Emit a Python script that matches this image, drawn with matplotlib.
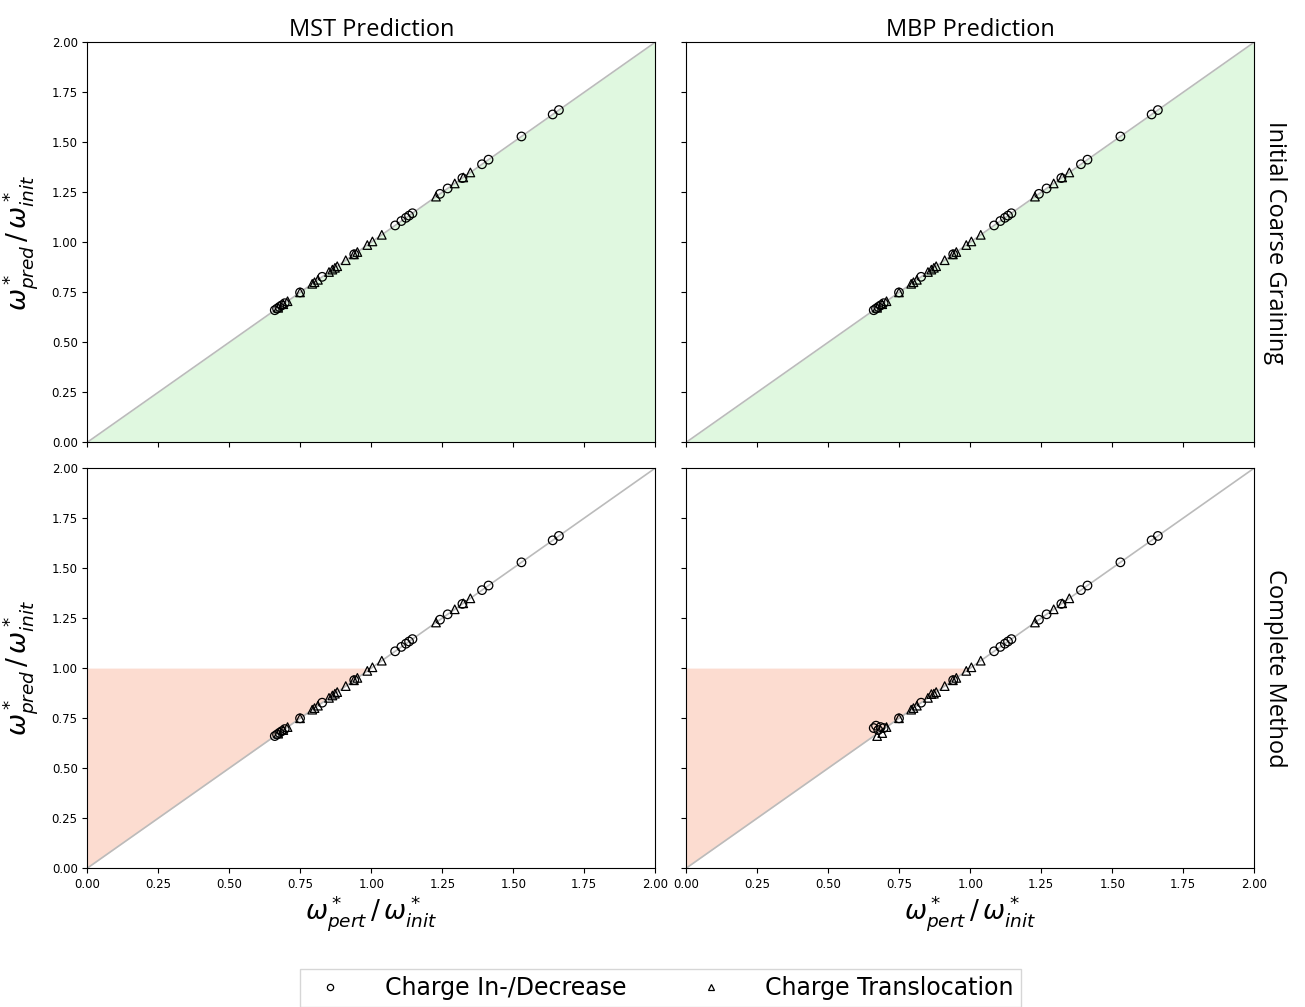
import numpy as np
import matplotlib.pyplot as plt
from matplotlib.lines import Line2D

# perturbed / initial ratios (x) and predicted / initial ratios (y)
circ_pert = [0.660, 0.668, 0.676, 0.684, 0.695, 0.749, 0.827, 0.940, 1.084, 1.106,
             1.122, 1.133, 1.145, 1.242, 1.269, 1.321, 1.390, 1.413, 1.529, 1.639, 1.661]
circ_pred_mst = circ_pert
circ_pred_mbp_cg = circ_pert
circ_pred_mbp_full = [0.700, 0.712, 0.690, 0.705, 0.700, 0.749, 0.827, 0.940, 1.084, 1.106,
                      1.122, 1.133, 1.145, 1.242, 1.269, 1.321, 1.390, 1.413, 1.529, 1.639, 1.661]

tri_pert = [0.672, 0.690, 0.705, 0.749, 0.792, 0.800, 0.812, 0.851, 0.863, 0.872, 0.880,
            0.910, 0.939, 0.951, 0.986, 1.004, 1.037, 1.228, 1.294, 1.324, 1.349]
tri_pred_mst = tri_pert
tri_pred_mbp_cg = tri_pert
tri_pred_mbp_full = [0.660, 0.675, 0.705, 0.749, 0.792, 0.800, 0.812, 0.851, 0.870, 0.872, 0.880,
                     0.910, 0.939, 0.951, 0.986, 1.004, 1.037, 1.228, 1.294, 1.324, 1.349]

col_titles = ["MST Prediction", "MBP Prediction"]
row_titles = ["Initial Coarse Graining", "Complete Method"]
ticks = [0.0, 0.25, 0.5, 0.75, 1.0, 1.25, 1.5, 1.75, 2.0]

panels = [[(circ_pred_mst, tri_pred_mst), (circ_pred_mbp_cg, tri_pred_mbp_cg)],
          [(circ_pred_mst, tri_pred_mst), (circ_pred_mbp_full, tri_pred_mbp_full)]]

fig, axes = plt.subplots(2, 2, figsize=(13.05, 10.07), dpi=100)
fig.subplots_adjust(left=0.067, right=0.961, top=0.958, bottom=0.138, wspace=0.055, hspace=0.065)

for r in range(2):
    for c in range(2):
        ax = axes[r, c]
        if r == 0:
            ax.fill_between([0, 2], [0, 2], 0, color='#e0f8e0', lw=0, zorder=0)
        else:
            ax.fill_between([0, 1], [0, 1], 1, color='#fcdcd0', lw=0, zorder=0)
        ax.plot([0, 2], [0, 2], color='#bbbbbb', lw=1.2, zorder=1)
        cy, ty = panels[r][c]
        ax.scatter(circ_pert, cy, marker='o', s=38, facecolors='none', edgecolors='black', lw=0.9, zorder=3)
        ax.scatter(tri_pert, ty, marker='^', s=38, facecolors='none', edgecolors='black', lw=0.9, zorder=3)
        ax.set_xlim(0, 2)
        ax.set_ylim(0, 2)
        ax.set_xticks(ticks)
        ax.set_yticks(ticks)
        ax.tick_params(labelsize=8.5)
        if r == 0:
            ax.set_xticklabels([])
            ax.set_title(col_titles[c], fontsize=17, family='Open Sans', pad=3)
        else:
            ax.set_xticklabels(['%.2f' % t for t in ticks])
            ax.set_xlabel(r'$\omega^*_{pert}\,/\,\omega^*_{init}$', fontsize=19, labelpad=2)
        if c == 0:
            ax.set_yticklabels(['%.2f' % t for t in ticks])
            ax.set_ylabel(r'$\omega^*_{pred}\,/\,\omega^*_{init}$', fontsize=19, labelpad=8)
        else:
            ax.set_yticklabels([])
            ax.yaxis.set_label_position('right')
            ax.set_ylabel(row_titles[r], fontsize=17, family='Open Sans', rotation=-90, labelpad=24)

handles = [Line2D([], [], ls='none', marker='o', ms=4.5, mfc='none', mec='black', mew=0.9),
           Line2D([], [], ls='none', marker='^', ms=4.5, mfc='none', mec='black', mew=0.9)]
fig.legend(handles, ["Charge In-/Decrease", "Charge Translocation"], loc='lower center',
           ncol=2, fontsize=17, bbox_to_anchor=(0.506, -0.012), frameon=True, fancybox=False,
           edgecolor='#cccccc', columnspacing=2.6, handletextpad=1.3, borderpad=0.3)

fig.savefig('out.png', dpi=100)
